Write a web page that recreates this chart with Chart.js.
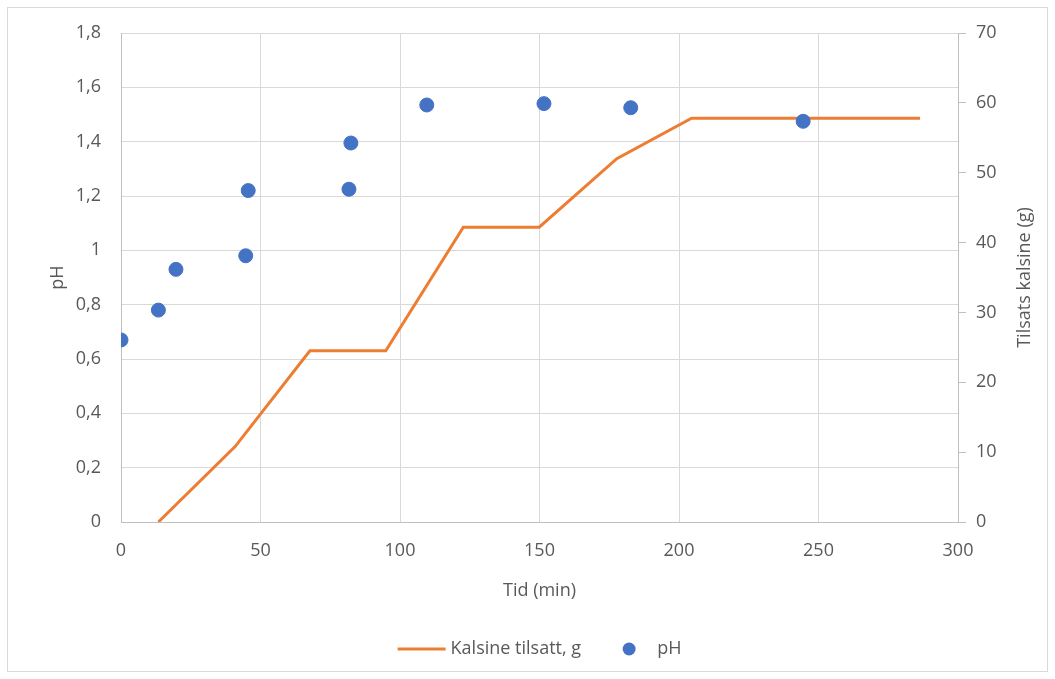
<!DOCTYPE html>
<html>
<head>
<meta charset="utf-8">
<script src="https://cdn.jsdelivr.net/npm/chart.js@4"></script>
<style>
  html, body { margin: 0; padding: 0; background: #fff; }
  #wrap { width: 1055px; height: 679px; }
</style>
</head>
<body>
<div id="wrap"><canvas id="grafico" width="1055" height="679"></canvas></div>
<script>
// tid (min) og pH-målinger
const tidPH = [0, 13.4, 19.7, 44.7, 45.6, 81.7, 82.4, 109.6, 151.6, 182.7, 244.5];
const verdierPH = [0.67, 0.78, 0.93, 0.98, 1.22, 1.225, 1.395, 1.535, 1.54, 1.525, 1.475];

// tilsatt kalsine (g) over tid
const tidKalsine = [13.4, 40.9, 67.7, 94.9, 122.7, 149.9, 177.7, 204.5, 286.4];
const verdierKalsine = [0, 10.8, 24.5, 24.5, 42.2, 42.2, 52.0, 57.8, 57.8];

// aksetekster
const phTicks = ["0", "0,2", "0,4", "0,6", "0,8", "1", "1,2", "1,4", "1,6", "1,8"];
const tittelX = "Tid (min)";
const tittelVenstre = "pH";
const tittelHoyre = "Tilsats kalsine (g)";

const tekstFarge = "#595959";
const fontNavn = "'Open Sans', sans-serif";
const fontStr = 18;

// ramme, høyre aksetittel og forklaring tegnes for hånd
const ekstra = {
  id: "ekstra",
  beforeDraw(chart) {
    const c = chart.ctx;
    c.save();
    c.strokeStyle = "#d9d9d9";
    c.lineWidth = 1;
    c.strokeRect(7.5, 7.5, 1040, 664);
    c.restore();
  },
  afterDraw(chart) {
    const c = chart.ctx;
    const area = chart.chartArea;
    c.save();
    c.fillStyle = tekstFarge;
    c.font = fontStr + "px " + fontNavn;

    // høyre aksetittel, leses nedenfra og opp
    c.save();
    c.translate(1025, (area.top + area.bottom) / 2);
    c.rotate(-Math.PI / 2);
    c.textAlign = "center";
    c.textBaseline = "middle";
    c.fillText(tittelHoyre, 0, 0);
    c.restore();

    // forklaring
    const ds = chart.data.datasets;
    const y = 649;
    const w1 = c.measureText(ds[0].label).width;
    const w2 = c.measureText(ds[1].label).width;
    const total = 48 + 5 + w1 + 42 + 12 + 22 + w2;
    let x = (area.left + area.right) / 2 - total / 2;
    c.strokeStyle = ds[0].borderColor;
    c.lineWidth = 3;
    c.beginPath();
    c.moveTo(x, y);
    c.lineTo(x + 48, y);
    c.stroke();
    x += 53;
    c.textBaseline = "middle";
    c.fillText(ds[0].label, x, y);
    x += w1 + 42;
    c.fillStyle = ds[1].backgroundColor;
    c.beginPath();
    c.arc(x + 6, y, 6.5, 0, Math.PI * 2);
    c.fill();
    x += 12 + 22;
    c.fillStyle = tekstFarge;
    c.fillText(ds[1].label, x, y);
    c.restore();
  }
};

const grafico = document.getElementById("grafico");
const ctx = grafico.getContext("2d");

const myChart = new Chart(ctx, {
  type: "scatter",
  data: {
    datasets: [
      {
        label: "Kalsine tilsatt, g",
        data: tidKalsine.map((t, i) => ({ x: t, y: verdierKalsine[i] })),
        showLine: true,
        borderColor: "#ED7D31",
        backgroundColor: "#ED7D31",
        borderWidth: 3,
        pointRadius: 0,
        yAxisID: "y2",
        order: 2,
      },
      {
        label: "pH",
        data: tidPH.map((t, i) => ({ x: t, y: verdierPH[i] })),
        backgroundColor: "#4472C4",
        borderColor: "#4472C4",
        pointRadius: 7,
        pointHoverRadius: 7,
        yAxisID: "y",
        order: 1,
      },
    ],
  },
  options: {
    responsive: false,
    animation: false,
    layout: { padding: { left: 0, right: 0, top: 33, bottom: 77 } },
    scales: {
      x: {
        type: "linear",
        min: 0,
        max: 300,
        ticks: { stepSize: 50, color: tekstFarge, padding: 18, font: { size: fontStr, family: fontNavn } },
        grid: { color: "#d9d9d9", drawTicks: false },
        border: { color: "#bfbfbf" },
        title: { display: true, text: tittelX, color: tekstFarge, font: { size: fontStr, family: fontNavn }, padding: { top: 4, bottom: 0 } },
        afterFit: function (scale) { scale.height = 80; },
      },
      y: {
        position: "left",
        min: 0,
        max: 1.8,
        ticks: {
          stepSize: 0.2,
          color: tekstFarge,
          padding: 20,
          font: { size: fontStr, family: fontNavn },
          callback: function (value, index) { return phTicks[index]; },
        },
        grid: { color: "#d9d9d9", drawTicks: false },
        border: { color: "#bfbfbf" },
        title: { display: true, text: tittelVenstre, color: tekstFarge, font: { size: fontStr, family: fontNavn }, padding: { top: 47, bottom: 0 } },
        afterFit: function (scale) { scale.width = 121; },
      },
      y2: {
        position: "right",
        min: 0,
        max: 70,
        ticks: { stepSize: 10, color: tekstFarge, padding: 10, font: { size: fontStr, family: fontNavn } },
        grid: { drawOnChartArea: false, color: "#bfbfbf", tickLength: 8 },
        border: { color: "#bfbfbf" },
        afterFit: function (scale) { scale.width = 97; },
      },
    },
    plugins: {
      legend: { display: false },
      tooltip: { enabled: false },
    },
  },
  plugins: [ekstra],
});
</script>
</body>
</html>
